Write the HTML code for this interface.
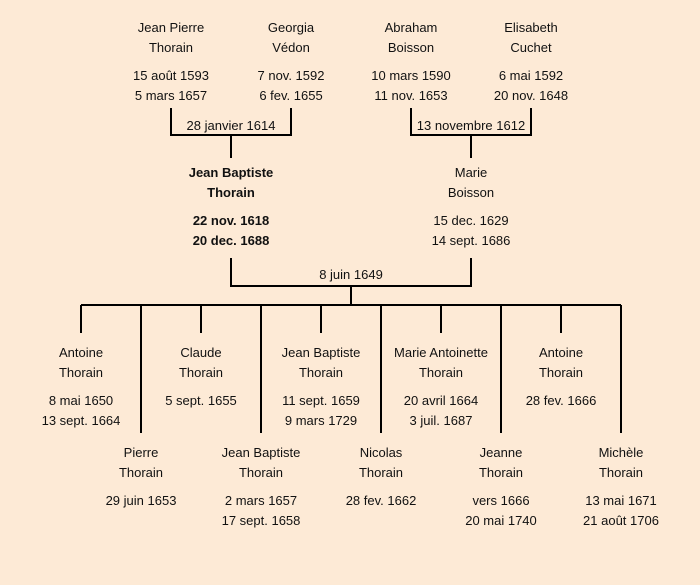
<!DOCTYPE html>
<html><head><meta charset="utf-8"><style>
html,body{margin:0;padding:0;background:#fdead6;}
svg{display:block}
text{font-family:"Liberation Sans",sans-serif;font-size:13px;fill:#111;text-anchor:middle}
.b{font-weight:bold}
</style></head><body>
<svg width="700" height="585" viewBox="0 0 700 585">
<rect width="700" height="585" fill="#fdead6"/>
<g stroke="#000" stroke-width="2" fill="none">
<path d="M171 108V135H291V108M231 135V158"/>
<path d="M411 108V135H531V108M471 135V158"/>
<path d="M231 258V286H471V258M351 286V305"/>
<path d="M81 305H621"/>
<path d="M81 305V333M201 305V333M321 305V333M441 305V333M561 305V333"/>
<path d="M141 305V433M261 305V433M381 305V433M501 305V433M621 305V433"/>
</g>
<g>
<text x="171" y="32">Jean Pierre</text><text x="171" y="52">Thorain</text>
<text x="171" y="80">15 août 1593</text><text x="171" y="100">5 mars 1657</text>
<text x="291" y="32">Georgia</text><text x="291" y="52">Védon</text>
<text x="291" y="80">7 nov. 1592</text><text x="291" y="100">6 fev. 1655</text>
<text x="411" y="32">Abraham</text><text x="411" y="52">Boisson</text>
<text x="411" y="80">10 mars 1590</text><text x="411" y="100">11 nov. 1653</text>
<text x="531" y="32">Elisabeth</text><text x="531" y="52">Cuchet</text>
<text x="531" y="80">6 mai 1592</text><text x="531" y="100">20 nov. 1648</text>
<text x="231" y="130">28 janvier 1614</text>
<text x="471" y="130">13 novembre 1612</text>
<text class="b" x="231" y="177">Jean Baptiste</text><text class="b" x="231" y="197">Thorain</text>
<text class="b" x="231" y="225">22 nov. 1618</text><text class="b" x="231" y="245">20 dec. 1688</text>
<text x="471" y="177">Marie</text><text x="471" y="197">Boisson</text>
<text x="471" y="225">15 dec. 1629</text><text x="471" y="245">14 sept. 1686</text>
<text x="351" y="279">8 juin 1649</text>

<text x="81" y="357">Antoine</text><text x="81" y="377">Thorain</text>
<text x="81" y="405">8 mai 1650</text><text x="81" y="425">13 sept. 1664</text>
<text x="201" y="357">Claude</text><text x="201" y="377">Thorain</text>
<text x="201" y="405">5 sept. 1655</text>
<text x="321" y="357">Jean Baptiste</text><text x="321" y="377">Thorain</text>
<text x="321" y="405">11 sept. 1659</text><text x="321" y="425">9 mars 1729</text>
<text x="441" y="357">Marie Antoinette</text><text x="441" y="377">Thorain</text>
<text x="441" y="405">20 avril 1664</text><text x="441" y="425">3 juil. 1687</text>
<text x="561" y="357">Antoine</text><text x="561" y="377">Thorain</text>
<text x="561" y="405">28 fev. 1666</text>

<text x="141" y="457">Pierre</text><text x="141" y="477">Thorain</text>
<text x="141" y="505">29 juin 1653</text>
<text x="261" y="457">Jean Baptiste</text><text x="261" y="477">Thorain</text>
<text x="261" y="505">2 mars 1657</text><text x="261" y="525">17 sept. 1658</text>
<text x="381" y="457">Nicolas</text><text x="381" y="477">Thorain</text>
<text x="381" y="505">28 fev. 1662</text>
<text x="501" y="457">Jeanne</text><text x="501" y="477">Thorain</text>
<text x="501" y="505">vers 1666</text><text x="501" y="525">20 mai 1740</text>
<text x="621" y="457">Michèle</text><text x="621" y="477">Thorain</text>
<text x="621" y="505">13 mai 1671</text><text x="621" y="525">21 août 1706</text>
</g>
</svg>
</body></html>
